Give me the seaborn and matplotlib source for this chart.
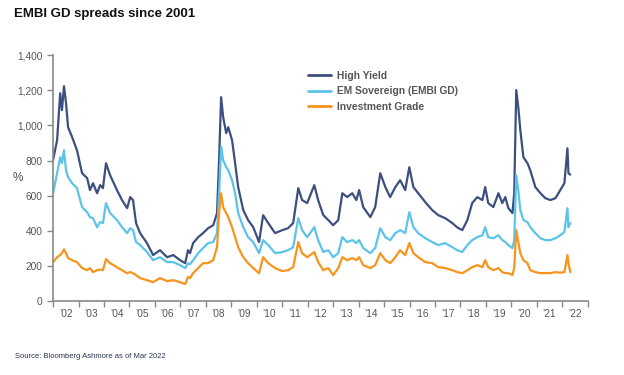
import pandas as pd
import matplotlib.pyplot as plt
import numpy as np
import seaborn as sb

# spreads (bp), dates as decimal years
dates = [
    2002.00, 2002.16, 2002.28, 2002.35, 2002.43, 2002.51, 2002.59, 2002.75, 2002.94, 2003.14,
    2003.34, 2003.45, 2003.57, 2003.73, 2003.85, 2003.96, 2004.08, 2004.24, 2004.51, 2004.71,
    2004.91, 2005.03, 2005.14, 2005.26, 2005.42, 2005.69, 2005.93, 2006.20, 2006.48, 2006.72,
    2006.99, 2007.19, 2007.30, 2007.38, 2007.50, 2007.70, 2007.89, 2008.09, 2008.29, 2008.44,
    2008.52, 2008.60, 2008.68, 2008.80, 2008.88, 2009.03, 2009.15, 2009.27, 2009.47, 2009.66,
    2009.86, 2010.09, 2010.25, 2010.45, 2010.72, 2011.00, 2011.23, 2011.43, 2011.63, 2011.78,
    2011.98, 2012.26, 2012.41, 2012.61, 2012.81, 2013.00, 2013.20, 2013.36, 2013.55, 2013.75,
    2013.91, 2014.02, 2014.18, 2014.46, 2014.65, 2014.85, 2015.05, 2015.24, 2015.44, 2015.63,
    2015.83, 2015.99, 2016.15, 2016.34, 2016.62, 2016.89, 2017.13, 2017.40, 2017.68, 2017.87,
    2018.07, 2018.27, 2018.46, 2018.66, 2018.86, 2018.97, 2019.09, 2019.29, 2019.49, 2019.64,
    2019.76, 2019.88, 2020.04, 2020.11, 2020.19, 2020.27, 2020.35, 2020.47, 2020.63, 2020.74,
    2020.94, 2021.14, 2021.33, 2021.53, 2021.73, 2021.92, 2022.08, 2022.20, 2022.24, 2022.31,
]

high_yield = [
    802, 916, 1183, 1087, 1223, 1127, 990, 933, 859, 728,
    700, 632, 671, 614, 660, 643, 785, 717, 632, 575,
    529, 592, 575, 444, 387, 330, 262, 290, 250, 262,
    233, 216, 290, 273, 330, 364, 387, 415, 432, 501,
    802, 1161, 1047, 956, 990, 916, 785, 649, 518, 461,
    421, 336, 489, 444, 387, 404, 415, 444, 643, 575,
    558, 660, 575, 490, 461, 432, 461, 614, 592, 614,
    575, 632, 535, 478, 535, 728, 649, 592, 649, 688,
    632, 762, 649, 614, 563, 518, 489, 472, 444, 420,
    404, 461, 558, 592, 575, 649, 558, 535, 614, 558,
    592, 529, 501, 614, 1201, 1104, 973, 819, 785, 745,
    649, 614, 586, 575, 586, 632, 671, 870, 728, 720,
]

em_sovereign = [
    614, 728, 819, 785, 859, 745, 706, 671, 643, 535,
    506, 478, 472, 421, 450, 444, 558, 501, 461, 421,
    387, 415, 404, 336, 319, 279, 233, 250, 222, 222,
    205, 188, 215, 210, 233, 273, 302, 330, 336, 387,
    614, 880, 802, 762, 745, 688, 614, 501, 421, 364,
    336, 273, 347, 319, 273, 279, 290, 307, 472, 404,
    364, 421, 347, 280, 290, 250, 273, 364, 336, 347,
    330, 347, 302, 273, 302, 415, 364, 347, 387, 404,
    387, 506, 421, 387, 358, 336, 319, 330, 307, 290,
    279, 319, 347, 364, 375, 421, 364, 358, 375, 347,
    336, 319, 302, 347, 717, 632, 518, 461, 450, 421,
    387, 358, 347, 347, 358, 375, 393, 529, 421, 444,
]

investment_grade = [
    222, 250, 262, 273, 295, 273, 245, 233, 222, 188,
    176, 188, 165, 176, 180, 176, 239, 216, 193, 176,
    159, 165, 159, 148, 131, 119, 108, 131, 114, 119,
    108, 97, 137, 131, 159, 188, 216, 216, 233, 307,
    501, 614, 535, 501, 478, 421, 364, 307, 250, 216,
    188, 159, 250, 216, 188, 171, 176, 193, 336, 273,
    250, 279, 222, 176, 188, 148, 188, 250, 233, 245,
    233, 250, 205, 188, 205, 273, 233, 216, 250, 290,
    262, 330, 273, 250, 222, 216, 193, 188, 176, 165,
    159, 176, 193, 205, 193, 233, 193, 176, 188, 165,
    159, 159, 148, 188, 404, 336, 273, 233, 216, 176,
    165, 159, 160, 159, 165, 162, 165, 262, 216, 165,
]

series_names = ["High Yield", "EM Sovereign (EMBI GD)", "Investment Grade"]
series_colors = ["#3d4f7e", "#5cc3ea", "#f7941d"]
year_labels = ["\u2019%02d" % (y % 100) for y in range(2002, 2023)]

sb.set_style("ticks")
plt.rcParams['font.family'] = ['Liberation Sans', 'DejaVu Sans']

df = pd.DataFrame({"date": dates,
                   series_names[0]: high_yield,
                   series_names[1]: em_sovereign,
                   series_names[2]: investment_grade})
long = df.melt(id_vars="date", var_name="series", value_name="spread")

fig = plt.figure(figsize=(6.24, 3.75), dpi=100)
ax = fig.add_axes([0.085, 0.197, 0.857, 0.656])

sb.lineplot(data=long, x="date", y="spread", hue="series", hue_order=series_names,
            palette=series_colors, linewidth=1.6, ax=ax)

ax.set_xlim(2002, 2023)
ax.set_ylim(0, 1400)
ax.set_yticks(range(0, 1401, 200))
ax.set_yticklabels(["{:,}".format(v) for v in range(0, 1401, 200)])

# ticks at year boundaries, labels at mid-year
ax.set_xticks(np.arange(2002, 2024))
ax.set_xticklabels([])
ax.set_xticks(np.arange(2002.5, 2023), minor=True)
ax.set_xticklabels(year_labels, minor=True)
ax.tick_params(axis="x", which="minor", length=0, pad=6)
ax.tick_params(axis="both", which="major", length=4, width=1, color="#888888")
ax.tick_params(axis="both", which="both", labelsize=7.3, labelcolor="#555555")

for s in ["top", "right"]:
    ax.spines[s].set_visible(False)
for s in ["left", "bottom"]:
    ax.spines[s].set_color("#888888")
    ax.spines[s].set_linewidth(1.2)

ax.set_xlabel("")
ax.set_ylabel("")
fig.text(0.029, 0.525, "%", fontsize=8.5, color="#555555", ha="center", va="center")

leg = ax.legend(loc="upper left", bbox_to_anchor=(0.46, 0.975), frameon=False,
                fontsize=7.4, handlelength=2.2, labelspacing=0.55, handletextpad=0.6)
for t in leg.get_texts():
    t.set_color("#555555")
    t.set_fontweight("bold")
for l in leg.get_lines():
    l.set_linewidth(2)

fig.text(0.022, 0.962, "EMBI GD spreads since 2001", fontsize=9.5, fontweight="bold",
         color="#111111", va="center")
fig.text(0.024, 0.048, "Source: Bloomberg Ashmore as of Mar 2022", fontsize=5.5,
         color="#2b3550", va="center")

fig.savefig("out.png", dpi=100)
